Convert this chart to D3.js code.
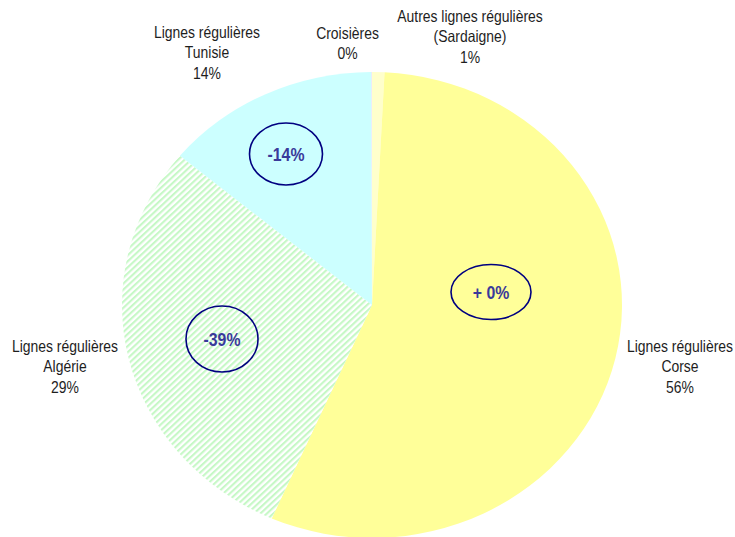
<!DOCTYPE html>
<html>
<head>
<meta charset="utf-8">
<script src="https://cdn.jsdelivr.net/npm/d3@7"></script>
<style>
  html, body { margin: 0; padding: 0; background: #fff; }
  svg { display: block; }
  text { font-family: "Liberation Sans", Arial, sans-serif; }
</style>
</head>
<body>
<svg id="chart" width="735" height="537"></svg>
<script>
// ---- data ----
const categories = ["Autres lignes régulières\n(Sardaigne)", "Lignes régulières\nCorse", "Lignes régulières\nAlgérie", "Lignes régulières\nTunisie", "Croisières"];
const shares = [0.8, 55.8, 29.5, 13.9, 0.05];
const shareLabels = ["1%", "56%", "29%", "14%", "0%"];
const changeLabels = [null, "+ 0%", "-39%", "-14%", null];

// ---- layout ----
const W = 735, H = 537;
const cx = 372, cy = 305, rx = 250, ry = 233;
const fills = ["#FFFFCC", "#FFFF99", "url(#stripes)", "#CCFFFF", "#E6E6FA"];
const labelPos = [ [470, 22], [680, 352], [65, 352], [207, 38], [347.5, 38.5] ];
const lineGap = 20.5;
const narrow = 0.855;
const bubblePos = [ null, [491, 292, 40, 27.5], [222, 339, 36, 33], [286, 154, 36.5, 31], null ];

const svg = d3.select("#chart");
const defs = svg.append("defs");
const pat = defs.append("pattern")
  .attr("id", "stripes").attr("patternUnits", "userSpaceOnUse")
  .attr("width", 4.6).attr("height", 4.6)
  .attr("patternTransform", "rotate(45)");
pat.append("rect").attr("width", 4.6).attr("height", 4.6).attr("fill", "#ffffff");
pat.append("rect").attr("width", 2.2).attr("height", 4.6).attr("fill", "#c6f8c6");

const pie = d3.pie().sort(null).value(d => d)(shares);
const arc = d3.arc().innerRadius(0).outerRadius(rx);

const g = svg.append("g").attr("transform", `translate(${cx},${cy}) scale(1,${ry / rx})`);
g.selectAll("path").data(pie).join("path")
  .attr("d", arc)
  .attr("fill", (d, i) => fills[i]);

// category labels
categories.forEach((c, i) => {
  const lines = c.split("\n").concat([shareLabels[i]]);
  const t = svg.append("text")
    .attr("transform", `translate(${labelPos[i][0]},${labelPos[i][1]}) scale(${narrow},1)`)
    .attr("text-anchor", "middle")
    .attr("font-size", 16.3)
    .attr("fill", "#1e1e1e");
  lines.forEach((l, j) => {
    t.append("tspan").attr("x", 0).attr("y", j * lineGap).text(l);
  });
});

// change bubbles
changeLabels.forEach((c, i) => {
  if (!c) return;
  const [bx, by, brx, bry] = bubblePos[i];
  svg.append("ellipse").attr("cx", bx).attr("cy", by).attr("rx", brx).attr("ry", bry)
    .attr("fill", "none").attr("stroke", "#000080").attr("stroke-width", 1.6);
  svg.append("text")
    .attr("transform", `translate(${bx},${by}) scale(${narrow},1)`)
    .attr("dy", "0.36em")
    .attr("text-anchor", "middle").attr("font-size", 18.5).attr("font-weight", "bold")
    .attr("fill", "#3a3a9a").text(c);
});
</script>
</body>
</html>
